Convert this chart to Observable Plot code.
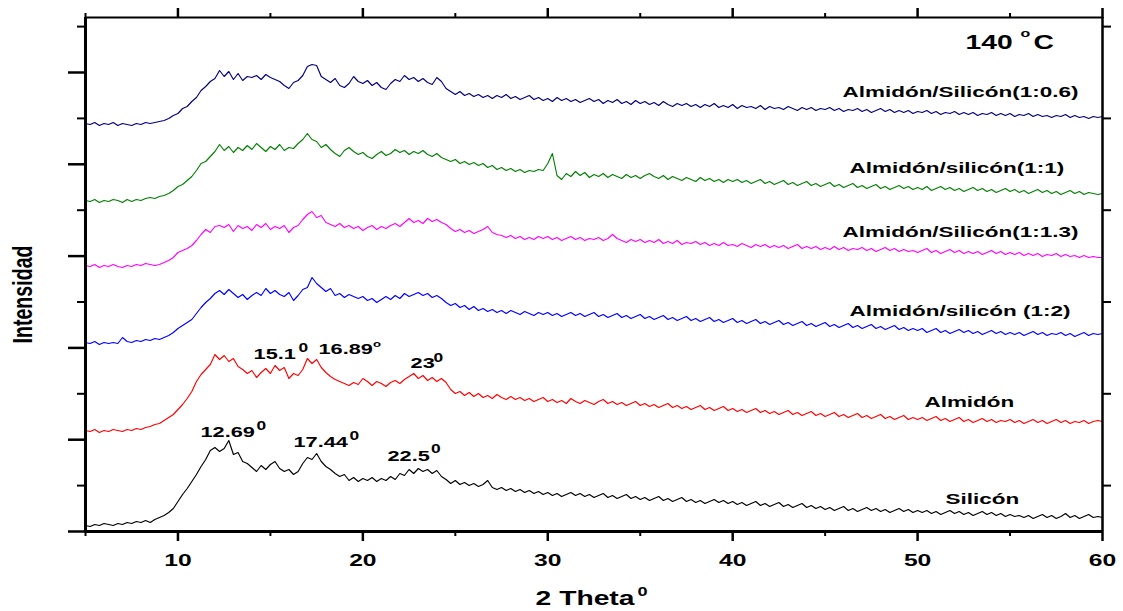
<!DOCTYPE html>
<html>
<head>
<meta charset="utf-8">
<script src="https://cdn.jsdelivr.net/npm/d3@7"></script>
<script src="https://cdn.jsdelivr.net/npm/@observablehq/plot@0.6"></script>
<style>
  html, body { margin: 0; padding: 0; background: #ffffff; }
  svg { display: block; }
</style>
</head>
<body>
<div id="chart"></div>
<script>
// ---- Data (2θ sampled every 0.25° from 5° to 60°; intensity in arbitrary units, stacked) ----
const thetaStart = 5, thetaStep = 0.25;

const silicon = [
  6,5,7,6,8,7,6,8,7,9,8,10,9,11,9,12,14,16,19,23,
  30,37,43,50,57,65,72,81,84,80,83,91,77,79,70,68,64,60,66,62,
  67,70,63,60,62,57,60,68,74,72,78,70,65,62,58,55,57,51,54,50,
  53,51,54,50,53,51,55,52,58,56,62,58,63,60,62,58,61,55,52,48,
  51,47,49,46,48,45,47,51,44,42,44,41,43,40,42,39,41,38,40,37,
  39,36,38,35,37,39,36,38,35,37,34,36,38,34,36,33,35,37,33,35,
  32,34,31,33,35,31,33,30,32,34,30,32,29,31,28,30,32,29,31,28,
  30,27,29,26,28,30,26,28,25,27,29,25,27,24,26,28,24,26,23,25,
  22,24,21,23,25,21,23,20,22,24,21,23,20,22,19,21,23,20,22,19,
  21,19,21,18,20,17,19,21,18,20,17,19,16,18,20,17,19,16,18,15,
  17,15,16,14,16,13,15,17,14,16,13,15,18,14,16,13,15,17,14,15,
  14
];

const almidon = [
  101,100,102,99,101,100,102,101,100,102,101,103,102,104,105,107,108,111,114,117,
  122,127,133,140,150,157,162,167,177,172,176,170,173,165,162,158,161,154,159,163,
  158,166,161,164,153,158,156,162,173,168,172,164,159,155,152,150,148,146,149,147,
  153,150,146,150,148,145,149,151,148,152,155,158,153,156,151,154,150,153,149,142,
  138,140,136,139,135,138,134,136,133,137,134,132,135,132,134,131,133,130,132,134,
  130,132,129,131,128,133,130,128,131,129,127,130,132,128,130,127,129,126,128,130,
  126,128,125,127,124,126,128,124,126,123,125,122,124,126,122,124,121,123,125,121,
  123,120,122,119,121,123,119,121,118,120,117,119,121,117,119,116,118,120,116,118,
  115,117,119,115,117,114,116,118,114,116,113,115,117,113,115,112,114,116,112,114,
  112,114,111,113,115,111,113,110,112,114,110,112,109,111,113,110,112,109,111,110,
  112,109,111,108,110,112,109,111,108,110,112,109,111,108,110,109,111,108,110,111,
  110
];

const ratio12 = [
  189,188,190,187,189,188,189,188,194,190,189,191,190,192,191,193,192,194,196,199,
  203,206,209,212,218,224,229,233,238,241,237,242,238,234,237,232,236,239,236,243,
  238,241,237,235,239,231,236,242,244,254,248,244,240,243,236,238,234,237,235,233,
  235,231,233,229,232,235,232,236,233,238,235,237,239,236,238,234,236,233,229,226,
  228,224,226,222,225,221,223,220,222,219,221,218,221,219,217,220,218,216,219,217,
  219,216,218,215,217,219,216,218,215,217,219,215,217,214,216,218,214,216,213,215,
  217,213,215,212,214,216,212,214,211,213,215,211,213,210,212,214,210,212,209,211,
  213,209,211,208,210,212,208,210,207,209,211,207,209,206,208,210,206,208,205,207,
  209,205,207,204,206,208,204,206,203,205,207,203,205,202,204,206,202,204,201,203,
  201,203,199,201,203,199,201,198,200,202,199,201,198,200,197,199,201,198,200,197,
  199,197,199,196,198,200,197,199,196,198,197,199,196,198,195,197,199,196,198,197,
  198
];

const ratio113 = [
  266,265,267,264,266,265,267,265,264,266,265,267,266,268,267,266,267,269,271,274,
  279,281,283,286,291,297,302,299,305,306,304,307,300,306,303,305,301,307,304,308,
  302,305,303,306,299,304,306,312,317,320,314,316,309,307,305,308,304,306,303,305,
  301,304,306,302,305,303,306,308,305,309,313,309,311,308,313,310,312,309,307,303,
  300,302,299,301,298,300,302,305,299,297,296,294,296,293,295,292,294,292,295,293,
  295,292,294,291,293,295,292,294,291,293,292,294,291,293,297,293,291,289,292,290,
  292,289,291,289,292,288,290,288,291,287,289,288,290,287,289,286,288,286,289,286,
  287,285,288,286,284,287,285,287,284,286,284,286,283,285,287,283,285,283,285,282,
  284,282,285,282,284,281,283,282,284,281,283,280,282,284,281,283,280,282,280,281,
  279,281,283,279,281,278,280,282,279,281,278,280,278,280,277,279,281,278,280,277,
  279,277,279,276,278,276,278,275,277,276,278,275,277,275,276,274,276,274,275,274,
  274
];

const ratio11 = [
  331,330,332,329,331,330,332,331,329,332,330,332,331,333,334,333,335,336,338,341,
  345,347,351,355,361,368,370,375,380,387,381,385,379,384,381,386,382,388,384,380,
  385,382,387,381,384,383,388,392,398,392,390,384,387,382,378,375,381,384,380,377,
  379,375,373,377,380,376,378,382,379,381,377,380,378,381,377,375,378,374,372,370,
  372,368,370,367,369,366,368,364,366,362,364,361,363,360,362,359,361,360,362,361,
  368,378,356,352,358,355,360,356,359,354,357,355,358,354,357,355,353,357,354,356,
  353,356,358,355,353,356,352,355,353,351,354,352,350,354,351,353,350,352,349,352,
  350,352,349,351,348,350,352,348,350,347,349,351,347,349,346,348,350,346,348,345,
  347,349,345,347,344,346,348,344,346,343,345,347,343,345,342,344,346,343,345,342,
  344,342,345,341,343,345,342,344,341,343,340,342,344,341,343,340,342,339,341,343,
  340,342,339,341,338,340,342,339,341,338,340,337,339,341,338,340,337,339,338,337,
  338
];

const ratio106 = [
  408,407,409,406,408,407,409,406,408,407,406,408,407,409,408,409,410,411,413,416,
  418,423,425,430,434,441,445,450,453,461,455,460,452,458,451,455,454,456,452,457,
  454,452,450,446,443,449,451,456,465,467,466,455,452,449,453,446,444,448,455,450,
  448,451,446,449,444,442,448,452,450,456,452,454,450,453,449,447,454,450,443,440,
  437,440,436,438,435,437,434,436,433,436,434,437,433,435,432,434,436,432,434,431,
  433,430,434,431,433,430,432,429,431,433,430,432,428,431,429,432,428,430,427,431,
  428,430,427,429,426,430,427,425,428,426,428,425,427,424,427,425,428,424,426,424,
  427,423,426,424,425,423,426,422,425,423,424,422,425,423,421,424,422,424,421,423,
  422,424,421,423,420,422,421,423,420,422,419,421,423,420,422,419,421,419,421,418,
  420,419,421,418,420,417,419,418,420,417,419,417,419,416,418,417,419,416,418,416,
  418,415,417,416,418,415,417,415,416,414,416,415,417,414,416,414,415,413,415,414,
  415
];

const seriesNames  = ["Silicón", "Almidón", "Almidón/silicón (1:2)", "Almidón/Silicón(1:1.3)", "Almidón/silicón(1:1)", "Almidón/Silicón(1:0.6)"];
const seriesValues = [silicon, almidon, ratio12, ratio113, ratio11, ratio106];
const seriesColors = ["#000000", "#ff0000", "#0000ff", "#ff00ff", "#008000", "#000080"];

// label positions (in data units: 2θ, stacked intensity)
const labelTheta = [51.51, 50.37, 46.32, 45.94, 46.32, 45.94];
const labelLevel = [32, 129.5, 220, 299, 363, 439];

// peak annotations
const peakText  = ["12.69", "17.44", "22.5", "15.1", "16.89", "23"];
const peakTheta = [11.22, 16.25, 21.33, 14.09, 17.60, 22.58];
const peakLevel = [99.5, 89.5, 75.5, 177.5, 182.5, 168.5];
const supText   = ["0", "0", "0", "0", "o", "0"];
const supSize   = [12, 12, 12, 12, 9, 12];
const supTheta  = [14.25, 19.28, 23.68, 16.52, 20.55, 23.82];
const supLevel  = [105, 95.5, 82.5, 183.5, 187, 173.5];

// temperature title
const tempText  = ["140", "o", "C"];
const tempSize  = [19.5, 11, 19.5];
const tempTheta = [52.59, 55.57, 56.27];
const tempLevel = [489, 498.5, 489];

// ticks
const xMajor = [10, 20, 30, 40, 50, 60];
const xMinor = [5, 15, 25, 35, 45, 55];
const yMajor = [0, 91.8, 183.6, 275.4, 367.2, 459];
const yMinor = [45.9, 137.7, 229.5, 321.3, 413.1, 504.9];

const xTitle = "2 Theta", xTitleTheta = 29.34, xTitleLevel = -67.5;
const xTitleSup = "0", xTitleSupTheta = 34.85, xTitleSupLevel = -60;
const yTitle = "Intensidad", yTitleTheta = 1.59, yTitleLevel = 237;

// ---- Build tables ----
const rows = seriesNames.flatMap((name, k) =>
  seriesValues[k].map((v, i) => ({theta: thetaStart + i * thetaStep, intensity: v, series: name})));
const labels = seriesNames.map((name, k) => ({text: name, theta: labelTheta[k], level: labelLevel[k]}));
const peaks = peakText.map((t, k) => ({text: t, theta: peakTheta[k], level: peakLevel[k]}));
const sups = supText.map((t, k) => ({text: t, size: supSize[k], theta: supTheta[k], level: supLevel[k]}));
const temps = tempText.map((t, k) => ({text: t, size: tempSize[k], theta: tempTheta[k], level: tempLevel[k]}));

const font = "'Liberation Sans', Arial, Helvetica, sans-serif";

const chart = Plot.plot({
  width: 1123,
  height: 611,
  marginLeft: 85,
  marginRight: 21,
  marginTop: 17,
  marginBottom: 80,
  style: {fontFamily: font, fontWeight: "bold", background: "#ffffff", color: "#000000", overflow: "visible"},
  x: {domain: [5, 60]},
  y: {domain: [0, 514]},
  color: {domain: seriesNames, range: seriesColors},
  marks: [
    Plot.lineY(rows, {x: "theta", y: "intensity", z: "series", stroke: "series", strokeWidth: 1.15}),
    // frame
    Plot.ruleX([5], {strokeWidth: 3}),
    Plot.ruleX([60], {strokeWidth: 2.5}),
    Plot.ruleY([0], {strokeWidth: 3}),
    Plot.ruleY([514], {strokeWidth: 2}),
    // axes
    Plot.axisX(xMajor, {anchor: "bottom", tickSize: 10, tickPadding: 12, strokeWidth: 2.5, fontSize: 17, fontWeight: "bold", label: null}),
    Plot.axisX(xMinor, {anchor: "bottom", tickSize: 5, strokeWidth: 2, tickFormat: () => "", label: null}),
    Plot.axisX(xMajor, {anchor: "top", tickSize: 10, strokeWidth: 2.5, tickFormat: () => "", label: null}),
    Plot.axisX(xMinor, {anchor: "top", tickSize: 5, strokeWidth: 2, tickFormat: () => "", label: null}),
    Plot.axisY(yMajor, {anchor: "left", tickSize: 17, strokeWidth: 2.5, tickFormat: () => "", label: null}),
    Plot.axisY(yMinor, {anchor: "left", tickSize: 8, strokeWidth: 2, tickFormat: () => "", label: null}),
    Plot.axisY(yMinor, {anchor: "right", tickSize: 8, strokeWidth: 2, tickFormat: () => "", label: null}),
    // series labels
    Plot.text(labels, {x: "theta", y: "level", text: "text", textAnchor: "start", fontSize: 15.5, fontWeight: "bold", fill: "#000"}),
    // peak labels
    Plot.text(peaks, {x: "theta", y: "level", text: "text", textAnchor: "start", fontSize: 15, fontWeight: "bold", fill: "#000"}),
    Plot.text(sups, {x: "theta", y: "level", text: "text", textAnchor: "start", fontSize: "size", fontWeight: "bold", fill: "#000"}),
    // temperature
    Plot.text(temps, {x: "theta", y: "level", text: "text", textAnchor: "start", fontSize: "size", fontWeight: "bold", fill: "#000"}),
    // axis titles
    Plot.text([xTitle], {x: xTitleTheta, y: xTitleLevel, text: d => d, textAnchor: "start", fontSize: 19.5, fontWeight: "bold", fill: "#000"}),
    Plot.text([xTitleSup], {x: xTitleSupTheta, y: xTitleSupLevel, text: d => d, textAnchor: "start", fontSize: 12.5, fontWeight: "bold", fill: "#000"}),
    Plot.text([yTitle], {x: yTitleTheta, y: yTitleLevel, text: d => d, rotate: -90, textAnchor: "middle", fontSize: 19.6, fontWeight: "bold", fill: "#000"})
  ]
});

// The reference typography is horizontally stretched; reproduce that on every text element.
const SX = 1.45;
chart.querySelectorAll("text").forEach(t => {
  const tr = t.getAttribute("transform");
  if (tr && /^translate\(/.test(tr)) {
    t.setAttribute("transform", tr.replace(/^(translate\([^)]*\))/, `$1 scale(${SX},1)`));
  } else {
    const x = +(t.getAttribute("x") || 0), y = +(t.getAttribute("y") || 0);
    t.removeAttribute("x"); t.removeAttribute("y");
    t.setAttribute("transform", `translate(${x},${y}) scale(${SX},1)` + (tr ? " " + tr : ""));
  }
});

document.getElementById("chart").appendChild(chart);
</script>
</body>
</html>
